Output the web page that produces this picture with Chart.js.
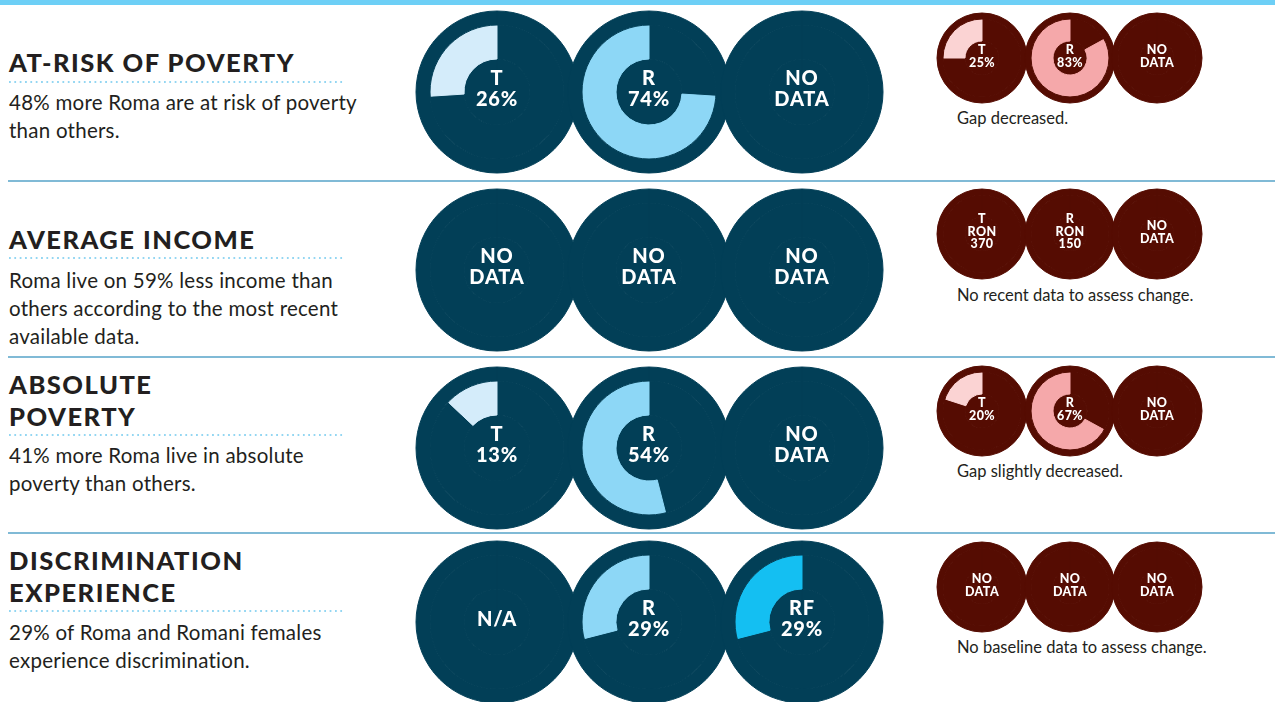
<!DOCTYPE html>
<html>
<head>
<meta charset="utf-8">
<script src="https://cdn.jsdelivr.net/npm/chart.js@4.4.1/dist/chart.umd.min.js"></script>
<style>
  html, body { margin:0; padding:0; background:#fff; }
  body { width:1275px; height:702px; position:relative; overflow:hidden; font-family:Lato, "Open Sans", sans-serif; color:#231f20; }
  .topbar { position:absolute; left:0; top:0; width:1275px; height:5px; background:#6dcff6; }
  .sep { position:absolute; left:8px; width:1267px; height:2px; background:#80bad6; }
  .title { position:absolute; left:9px; font-size:25.5px; line-height:32px; font-weight:900; letter-spacing:1.5px; white-space:nowrap; }
  .dots { position:absolute; left:9px; width:334px; height:2px;
          background:linear-gradient(to right, #93d6f2 1.6px, transparent 1.6px) 0 0 / 5.35px 2px repeat-x; }
  .note { position:absolute; left:9px; font-size:20.5px; line-height:28px; font-weight:400; letter-spacing:0.25px; white-space:nowrap; }
  .cap { position:absolute; left:957px; font-size:16.5px; line-height:20px; font-weight:400; white-space:nowrap; }
  .ring { position:absolute; }
  .lbl { position:absolute; transform:translate(-50%,-50%); text-align:center; color:#fff; font-weight:900; white-space:nowrap; }
  .lbl.big { font-size:20px; line-height:21px; letter-spacing:0.8px; }
  .lbl.small { font-size:12.5px; line-height:12.5px; letter-spacing:0.4px; }
</style>
</head>
<body>
<div class="topbar"></div>
<div id="page"></div>
<script>
// ---- datos
const titles = [
  ['AT-RISK OF POVERTY'],
  ['AVERAGE INCOME'],
  ['ABSOLUTE', 'POVERTY'],
  ['DISCRIMINATION', 'EXPERIENCE']
];
const notes = [
  ['48% more Roma are at risk of poverty', 'than others.'],
  ['Roma live on 59% less income than', 'others according to the most recent', 'available data.'],
  ['41% more Roma live in absolute', 'poverty than others.'],
  ['29% of Roma and Romani females', 'experience discrimination.']
];
const bigKeys = [
  ['T', 'R', 'NO DATA'],
  ['NO DATA', 'NO DATA', 'NO DATA'],
  ['T', 'R', 'NO DATA'],
  ['N/A', 'R', 'RF']
];
const bigValues = [
  [26, 74, null],
  [null, null, null],
  [13, 54, null],
  [null, 29, 29]
];
const smallKeys = [
  ['T', 'R', 'NO DATA'],
  ['T RON 370', 'R RON 150', 'NO DATA'],
  ['T', 'R', 'NO DATA'],
  ['NO DATA', 'NO DATA', 'NO DATA']
];
const smallValues = [
  [25, 83, null],
  [null, null, null],
  [20, 67, null],
  [null, null, null]
];
const captions = [
  'Gap decreased.',
  'No recent data to assess change.',
  'Gap slightly decreased.',
  'No baseline data to assess change.'
];

// ---- estilos / posiciones
const TEAL = '#023f57', MAROON = '#550c02';
const bigArc = { T:'#d4ecfa', R:'#8dd7f6', RF:'#14bff2' };
const smallArc = { T:'#fbd3d3', R:'#f5a8aa' };
const bigCx = [497, 649, 802], bigCy = [92, 270, 448, 622];
const smCx = [982, 1070, 1157], smCy = [58, 234, 411, 587];
const BIG = { r:81, w:[14, 34, 33], cls:'big', dy:-4 };
const SMALL = { r:45, w:[6, 22, 17], cls:'small', dy:-2 };
const sepY = [181, 357, 533];
const titleTop = [46, 223, 368, 544];
const dotsY = [82, 258, 435, 611];
const noteTop = [88, 266, 441, 618];
const capTop = [108, 285, 461, 637];

const $ = sel => document.querySelector(sel);
const page = $('#page');

function el(cls, css, html){
  const d = document.createElement('div');
  d.className = cls;
  Object.assign(d.style, css);
  if (html != null) d.innerHTML = html;
  page.appendChild(d);
  return d;
}

function drawCircle(cx, cy, key, value, base, arcColors, spec){
  const size = spec.r * 2 + 2;
  const wrap = el('ring', { left:(cx - size/2) + 'px', top:(cy - size/2) + 'px', width:size+'px', height:size+'px' });
  const cv = document.createElement('canvas');
  cv.width = size; cv.height = size;
  wrap.appendChild(cv);
  const color = arcColors[key.split(' ')[0]] || base;
  const mid = value == null
    ? { data:[1], backgroundColor:[base], borderColor:[base] }
    : { data:[100 - value, value], backgroundColor:[base, color], borderColor:[base, color] };
  new Chart(cv, {
    type:'doughnut',
    data:{
      datasets:[
        { data:[1], backgroundColor:[base], borderColor:[base], weight:spec.w[0] },
        Object.assign(mid, { weight:spec.w[1] }),
        { data:[1], backgroundColor:[base], borderColor:[base], weight:spec.w[2] }
      ]
    },
    options:{
      responsive:false, animation:false, events:[],
      cutout:0, radius:spec.r,
      borderWidth:1,
      layout:{ padding:0 },
      plugins:{ legend:{ display:false }, tooltip:{ enabled:false } }
    }
  });
  const lines = value == null ? key.split(' ') : [key, value + '%'];
  return { cx, cy:cy + spec.dy, lines, cls:spec.cls };
}

const labels = [];
for (let i = 0; i < 4; i++){
  if (i > 0) el('sep', { top:(sepY[i-1] - 1) + 'px' });
  el('title', { top:titleTop[i] + 'px' }, titles[i].join('<br>'));
  el('dots', { top:(dotsY[i] - 1) + 'px' });
  el('note', { top:noteTop[i] + 'px' }, notes[i].join('<br>'));
  el('cap', { top:capTop[i] + 'px' }, captions[i]);
  for (let j = 0; j < 3; j++){
    labels.push(drawCircle(bigCx[j], bigCy[i], bigKeys[i][j], bigValues[i][j], TEAL, bigArc, BIG));
    labels.push(drawCircle(smCx[j], smCy[i], smallKeys[i][j], smallValues[i][j], MAROON, smallArc, SMALL));
  }
}
// textos encima de los círculos
labels.forEach(l => el('lbl ' + l.cls, { left:l.cx + 'px', top:l.cy + 'px' }, l.lines.join('<br>')));
</script>
</body>
</html>
